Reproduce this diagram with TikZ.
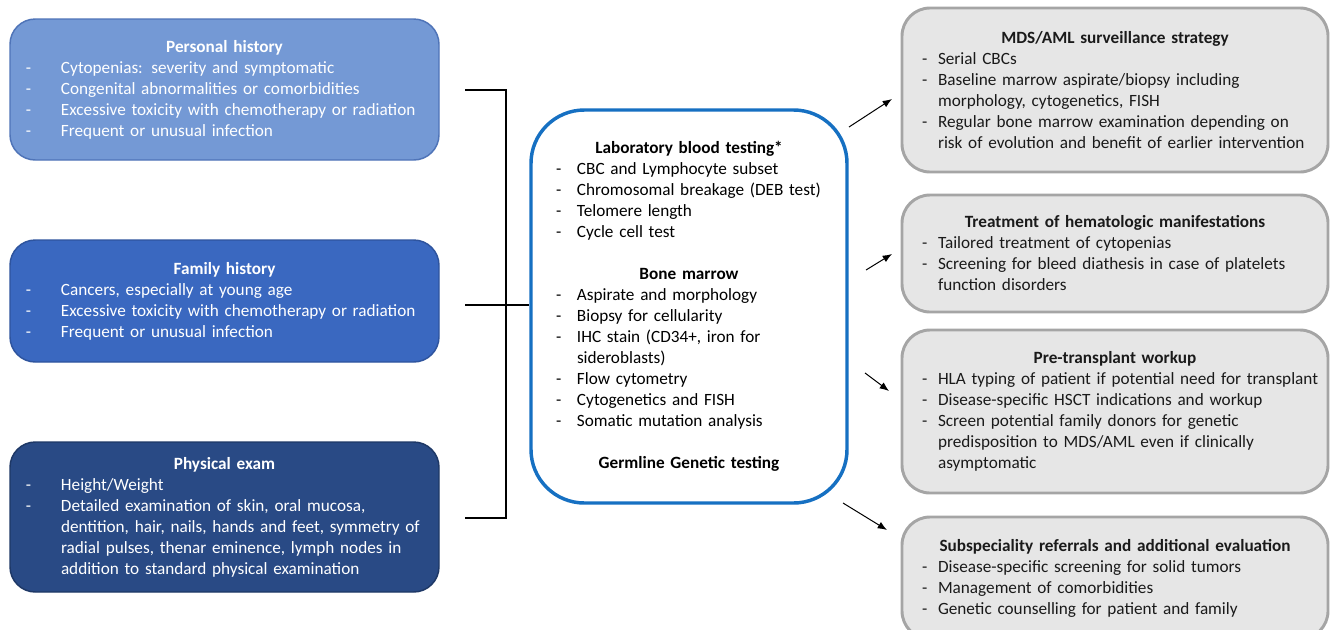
\documentclass[tikz,border=0pt]{standalone}
\usepackage{fontspec}
\setmainfont{Carlito}
\usetikzlibrary{arrows.meta}
\newlength\px \setlength\px{0.75pt}
\newlength\dpos \newlength\tpos
\definecolor{phfill}{HTML}{7499D5}
\definecolor{phdraw}{HTML}{4F74B8}
\definecolor{fhfill}{HTML}{3A68C0}
\definecolor{fhdraw}{HTML}{2E549E}
\definecolor{pefill}{HTML}{294A85}
\definecolor{pedraw}{HTML}{1E3866}
\definecolor{cendraw}{HTML}{1670C2}
\definecolor{rfill}{HTML}{E6E6E6}
\definecolor{rdraw}{HTML}{A5A5A5}
\definecolor{rtext}{HTML}{1A1A1A}
\newcommand\hd[1]{\makebox[\linewidth][c]{\bfseries #1}}
\newcommand\bi[1]{\hspace*{\dpos}\makebox[\dimexpr\tpos-\dpos\relax][l]{-}#1}
\newcommand\ct[1]{\hspace*{\tpos}#1}
\tikzset{
  boxbase/.style={inner xsep=0pt, inner ysep=0pt, align=left,
    font=\fontsize{12.9}{15.75}\selectfont},
  leftbox/.style={boxbase, rounded corners=19pt, line width=1.1pt, text=white,
    minimum width=429\px, text width=429\px,
    execute at begin node={\setlength\dpos{16\px}\setlength\tpos{51\px}}},
  centbox/.style={boxbase, rounded corners=40pt, line width=2.6pt, draw=cendraw, fill=white,
    minimum width=316\px, text width=316\px, minimum height=393\px,
    execute at begin node={\setlength\dpos{25\px}\setlength\tpos{46\px}}},
  rightbox/.style={boxbase, rounded corners=21pt, line width=2.2pt, draw=rdraw, fill=rfill, text=rtext,
    minimum width=426\px, text width=426\px,
    execute at begin node={\setlength\dpos{20\px}\setlength\tpos{36\px}}},
  brk/.style={line width=1.5pt, black},
  arr/.style={line width=0.75pt, -{Latex[length=7pt,width=5.5pt]}},
}
\begin{document}
\begin{tikzpicture}[x=0.75pt, y=-0.75pt]
\useasboundingbox[fill=white] (0,0) rectangle (1330,629);
\begin{scope}
\clip (0,0) rectangle (1330,629);
% left boxes
\node[leftbox, fill=phfill, draw=phdraw, minimum height=141\px] (ph) at (224.5,89.5) {%
\hd{Personal history}\\
\bi{Cytopenias: severity and symptomatic}\\
\bi{Congenital abnormalities or comorbidities}\\
\bi{Excessive toxicity with chemotherapy or radiation}\\
\bi{Frequent or unusual infection}};
\node[leftbox, fill=fhfill, draw=fhdraw, minimum height=122\px] (fh) at (224.5,301) {%
\hd{Family history}\\
\bi{Cancers, especially at young age}\\
\bi{Excessive toxicity with chemotherapy or radiation}\\
\bi{Frequent or unusual infection}};
\node[leftbox, fill=pefill, draw=pedraw, minimum height=150\px] (pe) at (224.5,517) {%
\hd{Physical exam}\\
\bi{Height/Weight}\\
\bi{Detailed examination of skin, oral mucosa,}\\
\ct{dentition, hair, nails, hands and feet, symmetry of}\\
\ct{radial pulses, thenar eminence, lymph nodes in}\\
\ct{addition to standard physical examination}};
% center box
\node[centbox] (cen) at (689,306.5) {%
\hd{Laboratory blood testing*}\\
\bi{CBC and Lymphocyte subset}\\
\bi{Chromosomal breakage (DEB test)}\\
\bi{Telomere length}\\
\bi{Cycle cell test}\\
\strut\\
\hd{Bone marrow}\\
\bi{Aspirate and morphology}\\
\bi{Biopsy for cellularity}\\
\bi{IHC stain (CD34+, iron for}\\
\ct{sideroblasts)}\\
\bi{Flow cytometry}\\
\bi{Cytogenetics and FISH}\\
\bi{Somatic mutation analysis}\\
\strut\\
\hd{Germline Genetic testing}};
% right boxes
\node[rightbox, minimum height=164\px] (r1) at (1115,90) {%
\hd{MDS/AML surveillance strategy}\\
\bi{Serial CBCs}\\
\bi{Baseline marrow aspirate/biopsy including}\\
\ct{morphology, cytogenetics, FISH}\\
\bi{Regular bone marrow examination depending on}\\
\ct{risk of evolution and benefit of earlier intervention}};
\node[rightbox, minimum height=117\px] (r2) at (1115,253.5) {%
\hd{Treatment of hematologic manifestations}\\
\bi{Tailored treatment of cytopenias}\\
\bi{Screening for bleed diathesis in case of platelets}\\
\ct{function disorders}};
\node[rightbox, minimum height=163\px] (r3) at (1115,411.5) {%
\hd{Pre-transplant workup}\\
\bi{HLA typing of patient if potential need for transplant}\\
\bi{Disease-specific HSCT indications and workup}\\
\bi{Screen potential family donors for genetic}\\
\ct{predisposition to MDS/AML even if clinically}\\
\ct{asymptomatic}};
\node[rightbox, minimum height=122\px] (r4) at (1115,578) {%
\hd{Subspeciality referrals and additional evaluation}\\
\bi{Disease-specific screening for solid tumors}\\
\bi{Management of comorbidities}\\
\bi{Genetic counselling for patient and family}};
% bracket
\coordinate (b1) at (465,90);
\coordinate (b2) at (465,305);
\coordinate (b3) at (465,518);
\coordinate (bt) at (506,90);
\coordinate (bb) at (506,518);
\draw[brk] (b1) -- (bt) -- (bb) -- (b3);
\draw[brk] (b2) -- (b2 -| cen.west);
% arrows
\coordinate (a1s) at (849,127); \coordinate (a1e) at (892,99);
\coordinate (a2s) at (866,270); \coordinate (a2e) at (892,254);
\coordinate (a3s) at (865,373); \coordinate (a3e) at (889,391);
\coordinate (a4s) at (843,503); \coordinate (a4e) at (887,530);
\draw[arr] (a1s) -- (a1e);
\draw[arr] (a2s) -- (a2e);
\draw[arr] (a3s) -- (a3e);
\draw[arr] (a4s) -- (a4e);
\end{scope}
\end{tikzpicture}
\end{document}
